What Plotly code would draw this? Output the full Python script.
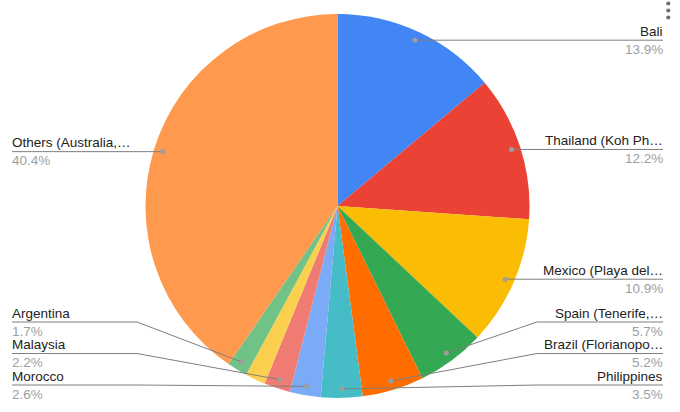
import math
import plotly.graph_objects as go

# ---------------- data ----------------
categories = [
    "Bali",
    "Thailand (Koh Ph…",
    "Mexico (Playa del…",
    "Spain (Tenerife,…",
    "Brazil (Florianopo…",
    "Philippines",
    "Morocco",
    "Malaysia",
    "Unlabelled",
    "Argentina",
    "Others (Australia,…",
]
shares = [13.9, 12.2, 10.9, 5.7, 5.2, 3.5, 2.6, 2.2, 1.7, 1.7, 40.4]

# ---------------- styling / layout ----------------
colors = ["#4285f4", "#ea4335", "#fbbc04", "#34a853", "#ff6d01", "#46bdc6",
          "#7baaf7", "#f07b72", "#fcd04f", "#71c287", "#ff994d"]
show_label = [True, True, True, True, True, True, True, True, False, True, True]

W, H = 680, 412
CX, CY, R = 337.5, 206.0, 192.0
DOT_R = 0.953 * R
ROW_GAP = 31.5
ROW_MAX = 385.0
RIGHT_EDGE, LEFT_EDGE = 663.0, 12.0
RIGHT_ELBOW, LEFT_ELBOW = 537.0, 137.0
FONT = "Liberation Sans, Arial, sans-serif"
FSIZE = 13.5


def px(x):
    return x / W


def py(y):
    return 1 - y / H


fig = go.Figure(go.Pie(
    labels=categories,
    values=shares,
    sort=False,
    direction="clockwise",
    rotation=0,
    marker=dict(colors=colors, line=dict(width=0)),
    textinfo="none",
    hoverinfo="label+percent",
    domain=dict(x=[px(CX - R), px(CX + R)], y=[py(CY + R), py(CY - R)]),
))

# anchor points (mid angle of each slice)
total = sum(shares)
cum = 0.0
dots = []
for v in shares:
    mid = (cum + v / 2) / total * 2 * math.pi
    cum += v
    dots.append((CX + DOT_R * math.sin(mid), CY - DOT_R * math.cos(mid)))

# label rows: start at dot y, resolve overlaps bottom-up per side
rows = [None] * len(shares)
for side in ("right", "left"):
    idx = [i for i in range(len(shares)) if show_label[i]
           and ((dots[i][0] >= CX) == (side == "right"))]
    idx.sort(key=lambda i: dots[i][1], reverse=True)
    limit = ROW_MAX
    for i in idx:
        y = min(dots[i][1], limit)
        rows[i] = y
        limit = y - ROW_GAP

shapes = []
annotations = []
line_col = "#7f7f7f"
for i, (dx, dy) in enumerate(dots):
    if not show_label[i]:
        continue
    right = dx >= CX
    ry = rows[i]
    edge = RIGHT_EDGE if right else LEFT_EDGE
    elbow = RIGHT_ELBOW if right else LEFT_ELBOW
    if abs(ry - dy) < 1.0:
        path = f"M {px(dx)},{py(dy)} L {px(edge)},{py(dy)}"
        ry = dy
    else:
        path = (f"M {px(dx)},{py(dy)} L {px(elbow)},{py(ry)} "
                f"L {px(edge)},{py(ry)}")
    shapes.append(dict(type="path", path=path, xref="paper", yref="paper",
                       line=dict(color=line_col, width=1)))
    shapes.append(dict(type="circle", xref="paper", yref="paper",
                       x0=px(dx - 2.5), x1=px(dx + 2.5),
                       y0=py(dy + 2.5), y1=py(dy - 2.5),
                       fillcolor="#9e9e9e", line=dict(width=0)))
    xa = "right" if right else "left"
    tx = edge + (2 if right else -2)
    annotations.append(dict(
        x=px(tx), y=py(ry - 9.0), xref="paper", yref="paper",
        text=categories[i], showarrow=False, xanchor=xa, yanchor="middle",
        font=dict(family=FONT, size=FSIZE, color="#222222")))
    annotations.append(dict(
        x=px(tx), y=py(ry + 9.0), xref="paper", yref="paper",
        text=f"{shares[i] / total * 100:.1f}%", showarrow=False,
        xanchor=xa, yanchor="middle",
        font=dict(family=FONT, size=FSIZE, color="#9e9e9e")))

# chart menu glyph (three dots, top right)
for my in (3.5, 10.5, 17.5):
    shapes.append(dict(type="circle", xref="paper", yref="paper",
                       x0=px(668.3 - 2.1), x1=px(668.3 + 2.1),
                       y0=py(my + 2.1), y1=py(my - 2.1),
                       fillcolor="#6f6f6f", line=dict(width=0)))

fig.update_layout(
    width=W, height=H,
    margin=dict(l=0, r=0, t=0, b=0),
    paper_bgcolor="white",
    plot_bgcolor="white",
    showlegend=False,
    shapes=shapes,
    annotations=annotations,
)

fig.write_html(
    "out.html",
    config={"displayModeBar": False},
    post_script="document.body.style.margin='0';document.body.style.padding='0';",
)
